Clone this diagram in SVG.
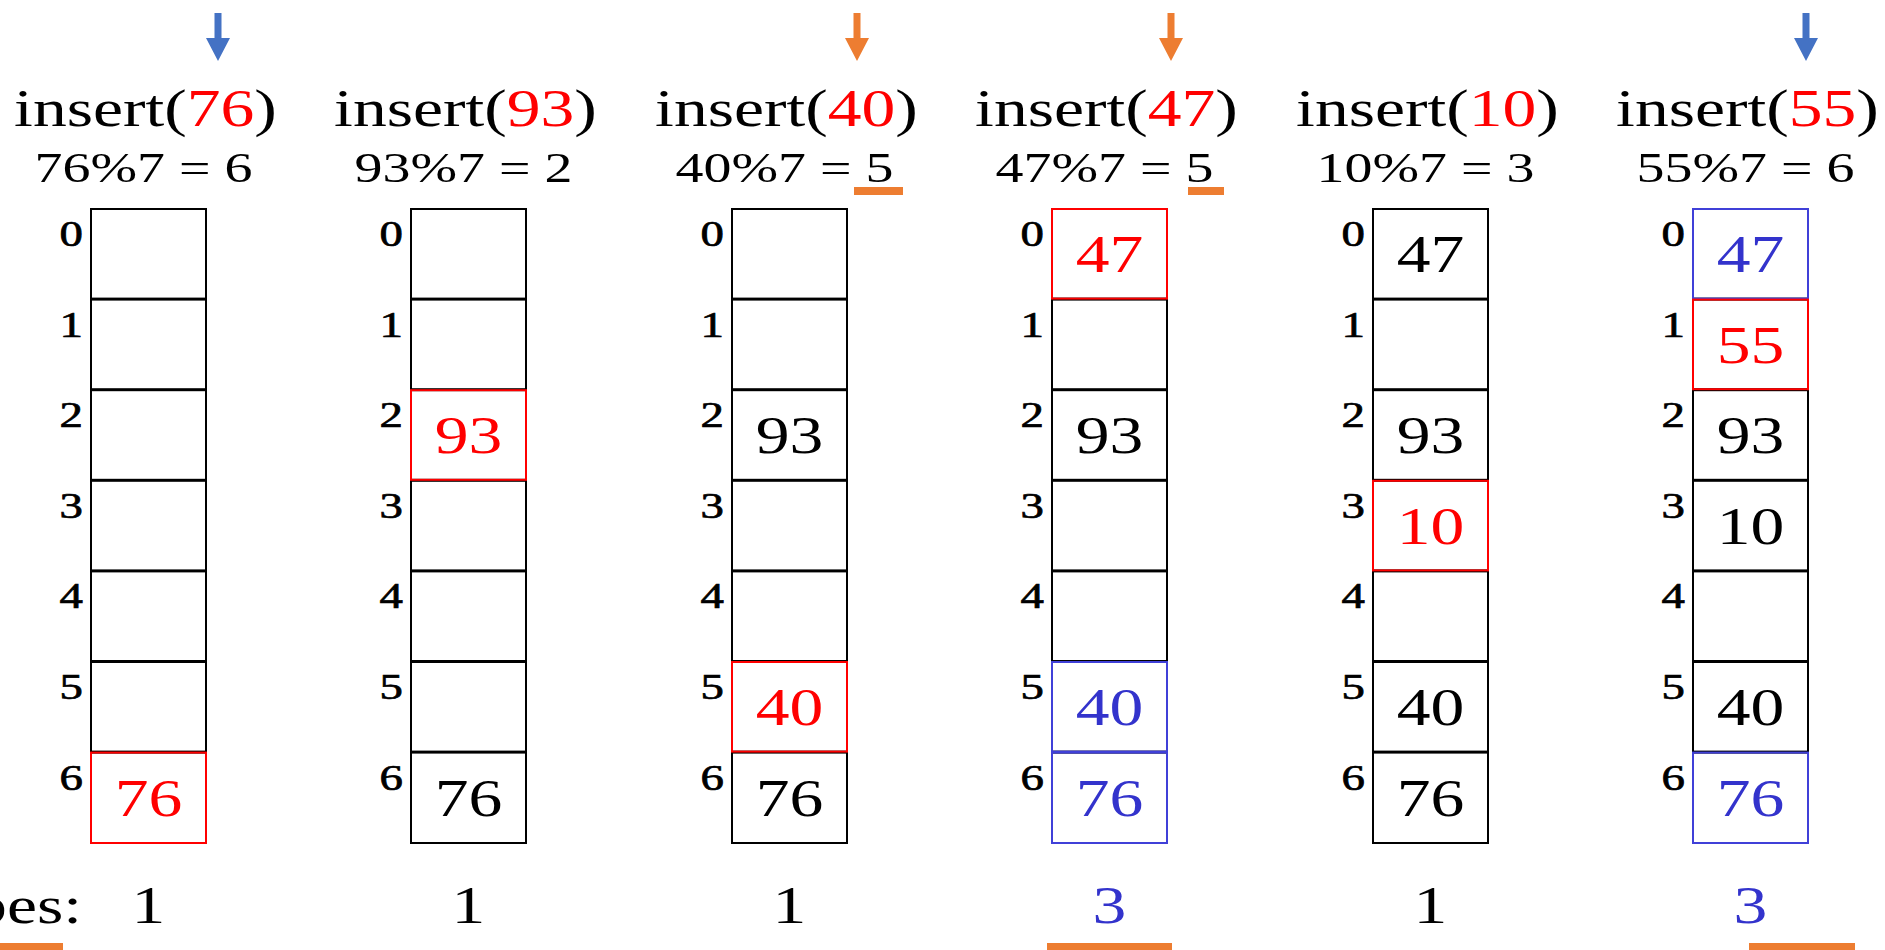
<svg xmlns="http://www.w3.org/2000/svg" xmlns:xlink="http://www.w3.org/1999/xlink" width="1885" height="950" viewBox="0 0 1885 950">
<style>
text{font-family:"Liberation Serif","Times New Roman",serif;fill:#000}
.h1{font-size:52px;text-anchor:middle}
.h2{font-size:43px;text-anchor:middle}
.lab{font-size:36px;text-anchor:end;stroke:#000;stroke-width:0.7}
.val{font-size:52px;text-anchor:middle}
.red{fill:#FF0000}
.blue{fill:#3333CC}
.cell{fill:#fff;stroke:#000;stroke-width:2}
.cr{fill:none;stroke:#FF0000;stroke-width:2}
.cb{fill:none;stroke:#4040D8;stroke-width:2}
.ul{fill:#ED7D31}
</style>
<defs>
<path id="arr" d="M-3.5,13 H3.5 V38 H12 L0,61 L-12,38 H-3.5 Z"/>
<g id="cells">
<rect class="cell" x="0" y="209" width="115" height="89.6"/>
<rect class="cell" x="0" y="299.6" width="115" height="89.6"/>
<rect class="cell" x="0" y="390.2" width="115" height="89.6"/>
<rect class="cell" x="0" y="480.8" width="115" height="89.6"/>
<rect class="cell" x="0" y="571.4" width="115" height="89.6"/>
<rect class="cell" x="0" y="662" width="115" height="89.6"/>
<rect class="cell" x="0" y="752.6" width="115" height="90.4"/>
<text class="lab" transform="translate(-8,246) scale(1.3,1)">0</text>
<text class="lab" transform="translate(-8,336.6) scale(1.3,1)">1</text>
<text class="lab" transform="translate(-8,427.2) scale(1.3,1)">2</text>
<text class="lab" transform="translate(-8,517.8) scale(1.3,1)">3</text>
<text class="lab" transform="translate(-8,608.4) scale(1.3,1)">4</text>
<text class="lab" transform="translate(-8,699) scale(1.3,1)">5</text>
<text class="lab" transform="translate(-8,789.6) scale(1.3,1)">6</text>
</g>
</defs>

<g id="arrows">
<use href="#arr" x="218" y="0" fill="#4472C4"/>
<use href="#arr" x="857" y="0" fill="#ED7D31"/>
<use href="#arr" x="1171" y="0" fill="#ED7D31"/>
<use href="#arr" x="1806" y="0" fill="#4472C4"/>
</g>

<g id="col1">
<text class="h1" transform="translate(145.5,126) scale(1.3,1)">insert(<tspan class="red">76</tspan>)</text>
<text class="h2" transform="translate(143.5,182) scale(1.3,1)">76%7 = 6</text>
<use href="#cells" x="91" y="0"/>
<rect class="cr" x="91" y="752.6" width="115" height="90.4"/>
<text class="val red" transform="translate(148.5,815.6) scale(1.3,1)">76</text>
<text class="val" transform="translate(148.5,923) scale(1.3,1)">1</text>
</g>

<g id="col2">
<text class="h1" transform="translate(465.5,126) scale(1.3,1)">insert(<tspan class="red">93</tspan>)</text>
<text class="h2" transform="translate(463.5,182) scale(1.3,1)">93%7 = 2</text>
<use href="#cells" x="411" y="0"/>
<rect class="cr" x="411" y="390.2" width="115" height="89.6"/>
<text class="val red" transform="translate(468.5,453.2) scale(1.3,1)">93</text>
<text class="val" transform="translate(468.5,815.6) scale(1.3,1)">76</text>
<text class="val" transform="translate(468.5,923) scale(1.3,1)">1</text>
</g>

<g id="col3">
<text class="h1" transform="translate(786.5,126) scale(1.3,1)">insert(<tspan class="red">40</tspan>)</text>
<text class="h2" transform="translate(784.5,182) scale(1.3,1)">40%7 = 5</text>
<rect class="ul" x="854" y="187" width="49" height="8"/>
<use href="#cells" x="732" y="0"/>
<rect class="cr" x="732" y="662" width="115" height="89.6"/>
<text class="val" transform="translate(789.5,453.2) scale(1.3,1)">93</text>
<text class="val red" transform="translate(789.5,725) scale(1.3,1)">40</text>
<text class="val" transform="translate(789.5,815.6) scale(1.3,1)">76</text>
<text class="val" transform="translate(789.5,923) scale(1.3,1)">1</text>
</g>

<g id="col4">
<text class="h1" transform="translate(1106.5,126) scale(1.3,1)">insert(<tspan class="red">47</tspan>)</text>
<text class="h2" transform="translate(1104.5,182) scale(1.3,1)">47%7 = 5</text>
<rect class="ul" x="1188" y="187" width="36" height="8"/>
<use href="#cells" x="1052" y="0"/>
<rect class="cr" x="1052" y="209" width="115" height="89.6"/>
<rect class="cb" x="1052" y="662" width="115" height="89.6"/>
<rect class="cb" x="1052" y="752.6" width="115" height="90.4"/>
<text class="val red" transform="translate(1109.5,272) scale(1.3,1)">47</text>
<text class="val" transform="translate(1109.5,453.2) scale(1.3,1)">93</text>
<text class="val blue" transform="translate(1109.5,725) scale(1.3,1)">40</text>
<text class="val blue" transform="translate(1109.5,815.6) scale(1.3,1)">76</text>
<text class="val blue" transform="translate(1109.5,923) scale(1.3,1)">3</text>
</g>

<g id="col5">
<text class="h1" transform="translate(1427.5,126) scale(1.3,1)">insert(<tspan class="red">10</tspan>)</text>
<text class="h2" transform="translate(1425.5,182) scale(1.3,1)">10%7 = 3</text>
<use href="#cells" x="1373" y="0"/>
<rect class="cr" x="1373" y="480.8" width="115" height="89.6"/>
<text class="val" transform="translate(1430.5,272) scale(1.3,1)">47</text>
<text class="val" transform="translate(1430.5,453.2) scale(1.3,1)">93</text>
<text class="val red" transform="translate(1430.5,543.8) scale(1.3,1)">10</text>
<text class="val" transform="translate(1430.5,725) scale(1.3,1)">40</text>
<text class="val" transform="translate(1430.5,815.6) scale(1.3,1)">76</text>
<text class="val" transform="translate(1430.5,923) scale(1.3,1)">1</text>
</g>

<g id="col6">
<text class="h1" transform="translate(1747.5,126) scale(1.3,1)">insert(<tspan class="red">55</tspan>)</text>
<text class="h2" transform="translate(1745.5,182) scale(1.3,1)">55%7 = 6</text>
<use href="#cells" x="1693" y="0"/>
<rect class="cb" x="1693" y="209" width="115" height="89.6"/>
<rect class="cr" x="1693" y="299.6" width="115" height="89.6"/>
<rect class="cb" x="1693" y="752.6" width="115" height="90.4"/>
<text class="val blue" transform="translate(1750.5,272) scale(1.3,1)">47</text>
<text class="val red" transform="translate(1750.5,362.6) scale(1.3,1)">55</text>
<text class="val" transform="translate(1750.5,453.2) scale(1.3,1)">93</text>
<text class="val" transform="translate(1750.5,543.8) scale(1.3,1)">10</text>
<text class="val" transform="translate(1750.5,725) scale(1.3,1)">40</text>
<text class="val blue" transform="translate(1750.5,815.6) scale(1.3,1)">76</text>
<text class="val blue" transform="translate(1750.5,923) scale(1.3,1)">3</text>
</g>

<g id="probes">
<text class="val" style="text-anchor:end" transform="translate(82,923) scale(1.3,1)">probes:</text>
</g>

<g id="underlines">
<rect class="ul" x="0" y="943" width="63" height="8"/>
<rect class="ul" x="1047" y="943" width="125" height="8"/>
<rect class="ul" x="1749" y="943" width="106" height="8"/>
</g>
</svg>
